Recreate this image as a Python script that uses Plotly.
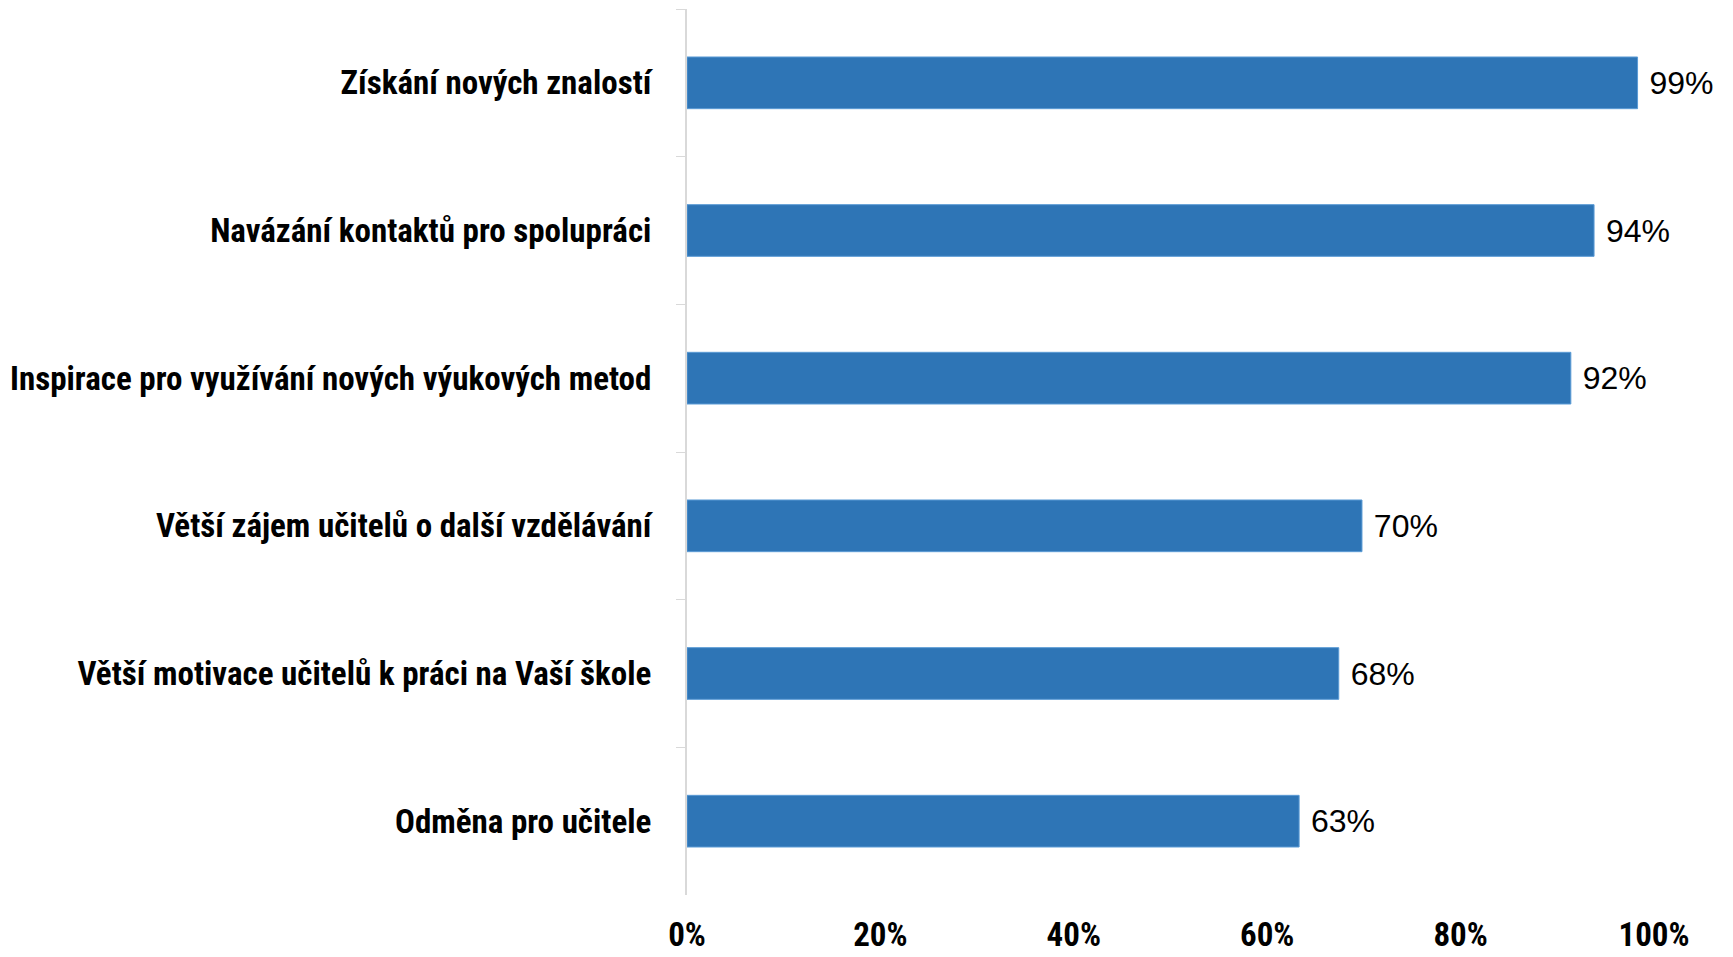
import plotly.graph_objects as go

categories = [
    "Získání nových znalostí",
    "Navázání kontaktů pro spolupráci",
    "Inspirace pro využívání nových výukových metod",
    "Větší zájem učitelů o další vzdělávání",
    "Větší motivace učitelů k práci na Vaší škole",
    "Odměna pro učitele",
]
values = [98.3, 93.8, 91.4, 69.8, 67.4, 63.3]
value_labels = ["99%", "94%", "92%", "70%", "68%", "63%"]
tick_vals = [0, 20, 40, 60, 80, 100]
tick_text = ["0%", "20%", "40%", "60%", "80%", "100%"]

FONT = "Liberation Sans Narrow, Roboto Condensed, DejaVu Sans Condensed, Arial Narrow, sans-serif"
VALFONT = "Liberation Sans, Arial, sans-serif"

fig = go.Figure(
    go.Bar(
        y=categories,
        x=values,
        orientation="h",
        marker=dict(color="#2E75B6", line=dict(color="#5B9BD5", width=1)),
        text=[" " + t for t in value_labels],
        textposition="outside",
        textfont=dict(family=VALFONT, size=32, color="#000000", weight="normal"),
        cliponaxis=False,
    )
)

fig.update_layout(
    width=1717,
    height=949,
    margin=dict(l=679, r=71, t=1, b=62),
    plot_bgcolor="white",
    paper_bgcolor="white",
    bargap=0.65,
    showlegend=False,
    font=dict(family=FONT, size=33, color="#000000"),
)

fig.update_xaxes(
    range=[0, 100],
    tickvals=tick_vals,
    ticktext=tick_text,
    showgrid=False,
    zeroline=False,
    showline=False,
    ticks="",
    automargin=False,
    ticklabelstandoff=17,
    tickfont=dict(family=FONT, size=33, color="#000000", weight="bold"),
)

fig.update_yaxes(
    autorange="reversed",
    automargin=False,
    showgrid=False,
    showline=True,
    linecolor="#D9D9D9",
    linewidth=2,
    ticks="outside",
    tickson="boundaries",
    ticklen=9,
    tickcolor="#D9D9D9",
    tickwidth=1,
    ticklabelstandoff=27,
    tickfont=dict(family=FONT, size=33, color="#000000", weight="bold"),
)

fig.write_html("out.html")
